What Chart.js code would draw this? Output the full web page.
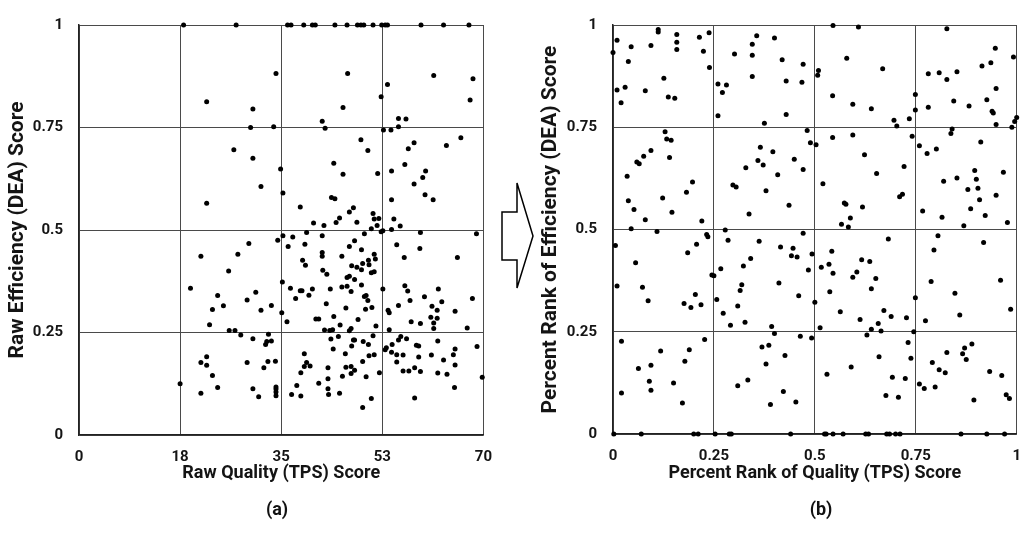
<!DOCTYPE html>
<html><head><meta charset="utf-8">
<script src="https://cdn.jsdelivr.net/npm/chart.js@4"></script>
<style>
html,body{margin:0;padding:0;background:#fff;width:1034px;height:546px;overflow:hidden;font-family:Roboto,sans-serif;}
#cA{position:absolute;left:0;top:0;}
#cB{position:absolute;left:520px;top:0;}
.lab{position:absolute;font:bold 18px Roboto;color:#111;transform:translate(-50%,-50%);white-space:nowrap;}
svg{position:absolute;left:0;top:0;}
</style></head>
<body>
<canvas id="cA" width="505" height="546"></canvas>
<canvas id="cB" width="514" height="546"></canvas>
<svg width="1034" height="546"><polygon points="502,212 517,212 517,183 533,236 517,288 517,260 502,260" fill="#fff" stroke="#000" stroke-width="1.5"/></svg>
<div class="lab" style="left:277px;top:508px">(a)</div>
<div class="lab" style="left:821px;top:508px">(b)</div>
<script>
// ---- Panel (a): raw scores [quality (TPS), efficiency (DEA)] ----
const rawScores = [
[18.1,1],[27.2,1],[36.1,1],[36.7,1],[38.9,1],[40.4,1],[40.9,1],[44.3,1],[46.4,1],[48.2,1],[48.8,1],[49.3,1],[50.9,1],[52.4,1],[53.0,1],[53.4,1],[59.2,1],[63.1,1],[67.5,1],
[22.1,0.813],[30.1,0.795],[29.7,0.75],[26.8,0.696],[30.1,0.675],[22.1,0.565],
[34.1,0.882],[33.7,0.752],[31.5,0.606],[34.9,0.649],[35.3,0.590],[46.5,0.882],[45.7,0.799],[42.1,0.765],[42.6,0.748],[48.8,0.720],[50.0,0.694],[44.1,0.663],[45.7,0.636],[51.7,0.638],[52.3,0.825],[53.4,0.855],[52.7,0.744],[54.0,0.744],[55.3,0.772],[56.6,0.771],[55.3,0.752],[58.0,0.713],[57.0,0.698],[56.4,0.660],[54.1,0.644],[60.0,0.644],[59.5,0.628],[58.0,0.612],[54.1,0.574],[59.9,0.586],[61.3,0.574],[61.4,0.877],[68.2,0.869],[67.7,0.817],[63.6,0.706],[66.1,0.725],[38.3,0.556],[43.7,0.579],[44.3,0.576],[47.5,0.554],[46.8,0.544],[45.1,0.529],[44.5,0.518],[40.6,0.517],[42.4,0.511],[48.1,0.519],[50.9,0.540],[51.1,0.527],[51.9,0.528],[51.6,0.511],[50.6,0.503],[54.5,0.527],[54.1,0.501],[55.6,0.510],[59.1,0.494],[68.8,0.491],
[29.4,0.467],[21.1,0.436],[27.5,0.441],[25.9,0.400],[19.3,0.358],[24.0,0.340],[29.1,0.329],[30.6,0.348],[25.0,0.315],[23.1,0.306],[22.6,0.269],[26.0,0.255],[27.0,0.255],[28.0,0.244],[30.1,0.235],[22.1,0.191],[21.1,0.177],[22.1,0.170],[29.1,0.177],[23.1,0.145],[17.5,0.125],[24.0,0.116],[21.1,0.102],[30.1,0.113],
[52.3,0.496],[52.6,0.498],[39.4,0.494],[35.3,0.486],[37.0,0.483],[34.4,0.475],[36.2,0.460],[39.1,0.465],[42.1,0.486],[47.7,0.474],[46.8,0.460],[49.4,0.491],[48.9,0.452],[45.5,0.436],[42.1,0.445],[42.1,0.436],[38.7,0.426],[39.2,0.414],[51.1,0.441],[51.3,0.429],[50.1,0.426],[50.2,0.415],[49.1,0.418],[47.2,0.413],[48.1,0.409],[48.9,0.403],[50.6,0.396],[51.1,0.398],[42.2,0.402],[42.9,0.392],[46.4,0.384],[46.8,0.387],[47.7,0.379],[35.2,0.373],[45.5,0.361],[46.4,0.363],[48.9,0.366],[47.1,0.350],[43.5,0.356],[40.4,0.356],[39.8,0.341],[38.3,0.352],[38.6,0.352],[36.6,0.358],[37.5,0.333],[33.3,0.316],[31.5,0.304],[35.1,0.298],[36.0,0.276],[42.8,0.320],[41.0,0.283],[41.5,0.283],[44.1,0.289],[46.2,0.310],[48.3,0.282],[45.2,0.268],[47.1,0.260],[46.8,0.254],[42.5,0.256],[43.4,0.255],[43.9,0.257],[49.4,0.338],[49.7,0.340],[50.0,0.328],[49.6,0.307],[50.7,0.311],[51.4,0.266],[52.6,0.356],[53.5,0.304],[53.7,0.298],[53.7,0.257],[55.0,0.464],[56.3,0.433],[59.0,0.455],[65.5,0.433],[56.4,0.364],[56.9,0.351],[55.3,0.316],[57.3,0.328],[59.8,0.337],[62.2,0.356],[62.8,0.325],[61.1,0.314],[62.0,0.304],[60.9,0.287],[62.0,0.285],[61.4,0.273],[61.4,0.260],[57.5,0.276],[59.1,0.272],[65.1,0.302],[68.1,0.333],[67.2,0.261],
[32.8,0.246],[32.3,0.221],[32.5,0.228],[33.3,0.229],[32.0,0.164],[32.7,0.179],[34.0,0.180],[31.1,0.093],[34.1,0.117],[34.1,0.112],[34.1,0.105],[34.1,0.096],[39.0,0.198],[39.4,0.177],[39.0,0.167],[40.0,0.168],[38.4,0.152],[37.7,0.121],[36.8,0.099],[38.4,0.095],[41.5,0.126],[43.1,0.164],[43.1,0.137],[43.1,0.113],[43.2,0.099],[45.1,0.102],[43.6,0.234],[44.0,0.210],[44.9,0.240],[47.5,0.232],[47.7,0.232],[47.2,0.217],[46.1,0.198],[46.2,0.165],[47.1,0.167],[47.7,0.158],[47.1,0.150],[45.6,0.143],[49.2,0.228],[50.1,0.221],[50.9,0.242],[50.2,0.193],[51.1,0.196],[49.1,0.179],[49.7,0.142],[52.0,0.152],[50.6,0.089],[49.1,0.067],[53.0,0.208],[53.2,0.213],[54.2,0.221],[55.3,0.232],[55.7,0.240],[56.7,0.235],[54.1,0.202],[55.0,0.196],[56.1,0.195],[55.0,0.178],[56.1,0.156],[57.1,0.156],[58.1,0.164],[59.1,0.155],[58.4,0.219],[58.8,0.217],[58.8,0.190],[61.0,0.195],[62.1,0.229],[63.1,0.183],[62.1,0.151],[63.7,0.148],[64.8,0.196],[65.1,0.210],[65.1,0.171],[65.0,0.116],[68.9,0.216],[69.8,0.141],[58.1,0.090]
];
// ---- Panel (b): percent ranks [quality rank, efficiency rank] ----
const rankScores = [
[0.112,0.989],[0.112,0.983],[0.010,0.963],[0.000,0.933],[0.045,0.947],[0.094,0.950],[0.158,0.977],[0.158,0.958],[0.158,0.940],[0.214,0.970],[0.238,0.981],[0.224,0.936],[0.239,0.896],[0.038,0.911],[0.126,0.870],[0.010,0.841],[0.030,0.848],[0.080,0.839],[0.020,0.810],[0.137,0.824],[0.153,0.821],[0.356,0.974],[0.345,0.953],[0.400,0.968],[0.301,0.929],[0.345,0.926],[0.419,0.915],[0.471,0.904],[0.345,0.874],[0.429,0.863],[0.468,0.860],[0.260,0.856],[0.281,0.853],[0.271,0.835],[0.260,0.778],[0.429,0.781],[0.375,0.760],
[0.129,0.739],[0.133,0.721],[0.144,0.718],[0.094,0.693],[0.076,0.679],[0.059,0.665],[0.065,0.661],[0.140,0.676],[0.035,0.630],[0.197,0.616],[0.182,0.591],[0.123,0.577],[0.038,0.570],[0.052,0.549],[0.146,0.542],[0.080,0.524],[0.220,0.521],[0.045,0.502],[0.109,0.495],[0.232,0.488],[0.481,0.742],[0.489,0.712],[0.365,0.701],[0.396,0.690],[0.359,0.669],[0.372,0.658],[0.329,0.651],[0.449,0.672],[0.471,0.647],[0.408,0.634],[0.297,0.609],[0.305,0.604],[0.379,0.595],[0.436,0.559],[0.337,0.538],[0.278,0.499],[0.471,0.491],
[0.545,0.999],[0.608,0.995],[0.579,0.919],[0.509,0.889],[0.507,0.877],[0.668,0.893],[0.544,0.827],[0.594,0.806],[0.640,0.795],[0.696,0.767],[0.703,0.753],[0.734,0.771],[0.749,0.830],[0.749,0.792],[0.827,0.991],[0.947,0.943],[0.992,0.922],[0.914,0.900],[0.936,0.908],[0.781,0.881],[0.808,0.883],[0.827,0.867],[0.852,0.886],[0.949,0.845],[0.926,0.817],[0.844,0.814],[0.882,0.802],[0.781,0.799],[0.939,0.789],[0.942,0.785],[0.949,0.757],[0.988,0.750],[0.995,0.764],[1.0,0.774],[0.840,0.746],[0.837,0.735],[0.741,0.728],[0.544,0.725],[0.594,0.731],[0.503,0.707],[0.623,0.683],[0.759,0.705],[0.778,0.686],[0.801,0.697],[0.911,0.714],[0.653,0.637],[0.721,0.654],[0.520,0.612],[0.819,0.618],[0.852,0.626],[0.896,0.644],[0.900,0.623],[0.904,0.601],[0.879,0.598],[0.967,0.640],[0.949,0.584],[0.908,0.573],[0.886,0.551],[0.922,0.534],[0.977,0.517],[0.869,0.509],[0.815,0.530],[0.767,0.545],[0.710,0.580],[0.717,0.586],[0.573,0.565],[0.577,0.562],[0.618,0.555],[0.588,0.528],[0.566,0.513],[0.583,0.506],[0.805,0.485],
[0.235,0.482],[0.006,0.461],[0.056,0.419],[0.010,0.362],[0.073,0.359],[0.087,0.326],[0.185,0.443],[0.207,0.464],[0.204,0.341],[0.176,0.319],[0.193,0.309],[0.218,0.316],[0.245,0.389],[0.250,0.387],[0.285,0.474],[0.362,0.471],[0.267,0.404],[0.341,0.429],[0.323,0.411],[0.257,0.329],[0.273,0.295],[0.291,0.266],[0.309,0.313],[0.315,0.351],[0.319,0.365],[0.327,0.273],[0.411,0.369],[0.415,0.457],[0.442,0.436],[0.446,0.454],[0.456,0.433],[0.484,0.401],[0.493,0.440],[0.460,0.338],[0.393,0.263],[0.400,0.246],
[0.021,0.227],[0.118,0.203],[0.063,0.160],[0.094,0.168],[0.090,0.129],[0.094,0.107],[0.021,0.100],[0.150,0.125],[0.189,0.206],[0.178,0.178],[0.227,0.231],[0.172,0.076],[0.369,0.213],[0.386,0.217],[0.379,0.171],[0.426,0.192],[0.464,0.239],[0.492,0.235],[0.309,0.118],[0.334,0.132],[0.422,0.104],[0.390,0.072],[0.453,0.078],
[0.002,0],[0.070,0],[0.200,0],[0.211,0],[0.253,0],[0.288,0],[0.293,0],[0.440,0],
[0.682,0.477],[0.542,0.447],[0.535,0.415],[0.516,0.408],[0.545,0.393],[0.537,0.348],[0.500,0.322],[0.563,0.299],[0.513,0.260],[0.616,0.426],[0.636,0.422],[0.594,0.383],[0.604,0.396],[0.651,0.380],[0.640,0.355],[0.612,0.280],[0.671,0.302],[0.689,0.287],[0.657,0.270],[0.640,0.256],[0.664,0.252],[0.629,0.242],[0.727,0.284],[0.749,0.333],[0.745,0.250],[0.788,0.373],[0.795,0.450],[0.847,0.344],[0.859,0.291],[0.774,0.277],[0.918,0.468],[0.960,0.376],[0.985,0.305],
[0.731,0.224],[0.738,0.185],[0.659,0.189],[0.590,0.164],[0.530,0.146],[0.692,0.139],[0.724,0.136],[0.676,0.094],[0.707,0.090],[0.759,0.122],[0.771,0.111],[0.798,0.115],[0.791,0.175],[0.808,0.157],[0.823,0.150],[0.827,0.199],[0.866,0.196],[0.871,0.210],[0.889,0.220],[0.875,0.182],[0.933,0.153],[0.963,0.143],[0.974,0.096],[0.982,0.087],[0.894,0.083],
[0.524,0],[0.528,0],[0.545,0],[0.570,0],[0.626,0],[0.633,0],[0.678,0],[0.685,0],[0.700,0],[0.711,0],[0.862,0],[0.926,0],[0.970,0]
];
// ---- tick values and labels ----
const xTicksA = [0, 17.5, 35, 52.5, 70];
const xLabelsA = ['0', '18', '35', '53', '70'];
const yTicks = [0, 0.25, 0.5, 0.75, 1];
const yLabels = ['0', '0.25', '0.5', '0.75', '1'];
const xTicksB = [0, 0.25, 0.5, 0.75, 1];
const xLabelsB = ['0', '0.25', '0.5', '0.75', '1'];

const FONT = 'Roboto';
const tickFont = {family: FONT, size: 15, weight: 'bold'};
const xTitleFont = {family: FONT, size: 18, weight: 'bold'};
const yTitleFont = {family: FONT, size: 21, weight: 'bold'};
const txt = '#141414';

function build(canvasId, pts, cfg) {
  return new Chart(document.getElementById(canvasId), {
    type: 'scatter',
    data: {datasets: [{
      data: pts.map(p => ({x: p[0], y: p[1]})),
      backgroundColor: '#000', borderWidth: 0, pointRadius: 2.5, clip: false
    }]},
    options: {
      responsive: false, animation: false, events: [],
      layout: {padding: cfg.pad},
      plugins: {legend: {display: false}, tooltip: {enabled: false}},
      scales: {
        x: {
          type: 'linear', min: cfg.xTicks[0], max: cfg.xTicks[cfg.xTicks.length - 1],
          afterBuildTicks: s => { s.ticks = cfg.xTicks.map(v => ({value: v})); },
          ticks: {font: tickFont, color: txt, padding: 13, maxRotation: 0, autoSkip: false,
                  callback: (v, i) => cfg.xLabels[i]},
          grid: {color: '#4a4a4a', lineWidth: 1, drawTicks: false},
          border: {color: '#222', width: 1.5},
          title: {display: true, text: cfg.xTitle, font: xTitleFont, color: txt, padding: {top: 0, bottom: 62}},
          afterFit: s => { s.height = 546 - cfg.bottom; }
        },
        y: {
          type: 'linear', min: 0, max: 1,
          afterBuildTicks: s => { s.ticks = yTicks.map(v => ({value: v})); },
          ticks: {font: tickFont, color: txt, padding: 16, autoSkip: false,
                  callback: (v, i) => yLabels[i]},
          grid: {color: '#4a4a4a', lineWidth: 1, drawTicks: false},
          border: {color: '#222', width: 1.5},
          title: {display: true, text: cfg.yTitle, font: yTitleFont, color: txt, padding: {top: cfg.yTitlePad, bottom: 0}},
          afterFit: s => { s.width = cfg.yWidth; }
        }
      }
    }
  });
}

build('cA', rawScores, {
  pad: {top: 15, right: 14, bottom: 0, left: 0},
  xTicks: xTicksA, xLabels: xLabelsA, bottom: 435, yWidth: 79, yTitlePad: 5,
  xTitle: 'Raw Quality (TPS) Score', yTitle: 'Raw Efficiency (DEA) Score'
});
build('cB', rankScores, {
  pad: {top: 12, right: 4, bottom: 0, left: 0},
  xTicks: xTicksB, xLabels: xLabelsB, bottom: 434, yWidth: 93, yTitlePad: 18,
  xTitle: 'Percent Rank of Quality (TPS) Score', yTitle: 'Percent Rank of Efficiency (DEA) Score'
});
</script>
</body></html>
